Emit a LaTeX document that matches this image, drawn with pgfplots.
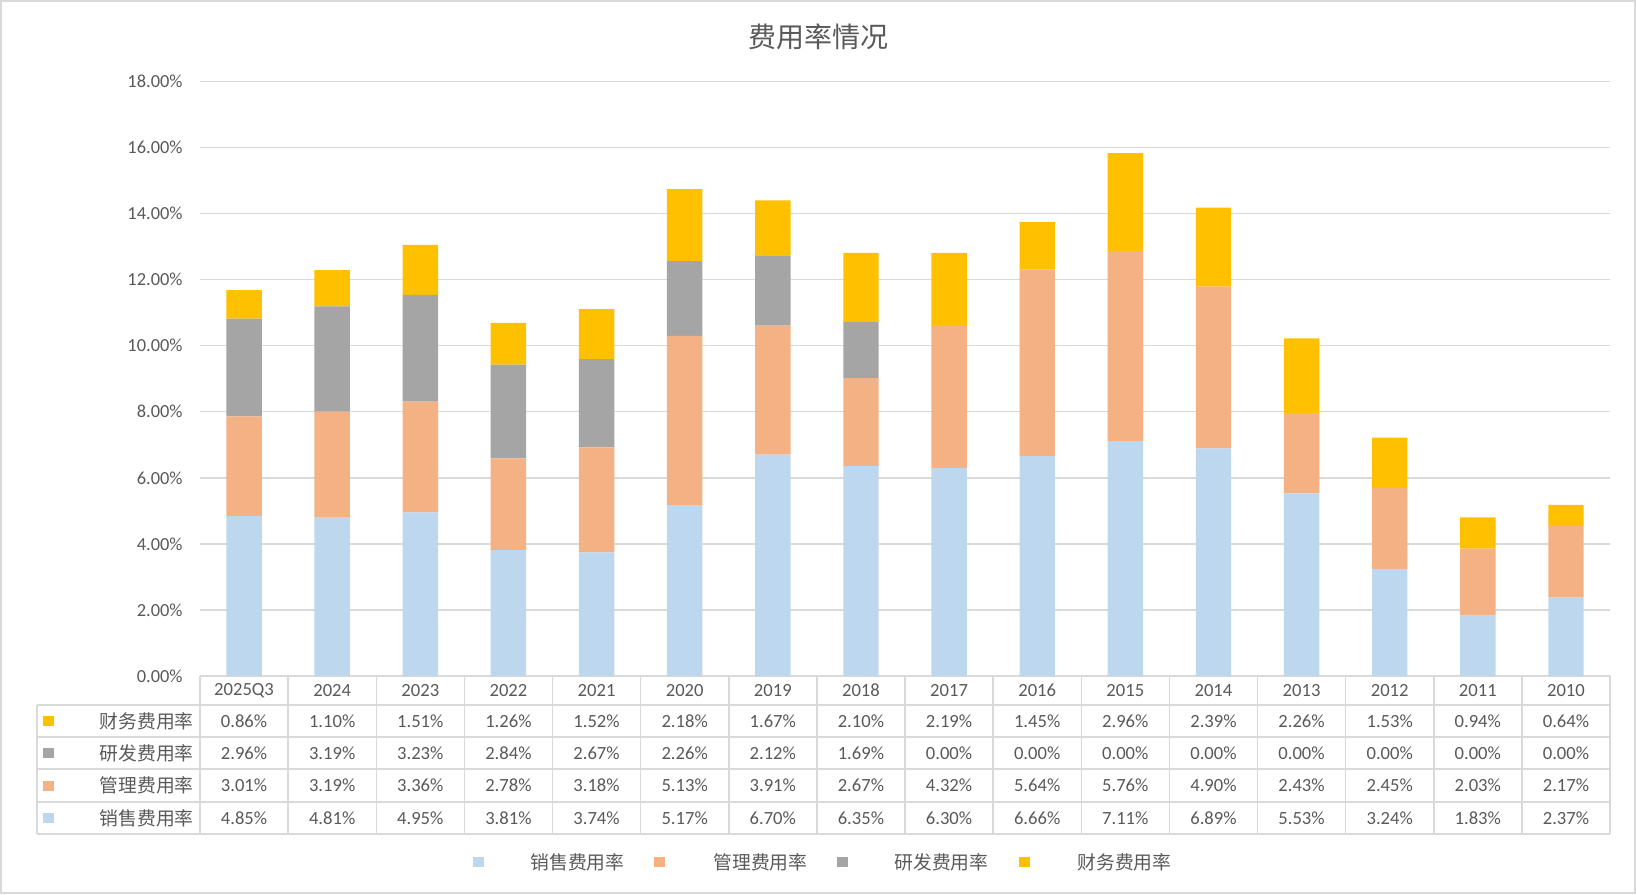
\documentclass[border=0pt]{standalone}
\usepackage{pgfplots}
\usepackage{pgfplotstable}
\pgfplotsset{compat=1.18}
\usepackage{fontspec}
\setmainfont{Carlito}
\newfontfamily\cjk{Noto Sans CJK SC}
\definecolor{colSales}{HTML}{BDD7EE}
\definecolor{colMgmt}{HTML}{F4B183}
\definecolor{colRd}{HTML}{A5A5A5}
\definecolor{colFin}{HTML}{FFC000}
\definecolor{txtgray}{HTML}{595959}
\definecolor{lngray}{HTML}{D9D9D9}
\pgfplotstableread{
cat sales mgmt rd fin
2025Q3 4.85 3.01 2.96 0.86
2024 4.81 3.19 3.19 1.10
2023 4.95 3.36 3.23 1.51
2022 3.81 2.78 2.84 1.26
2021 3.74 3.18 2.67 1.52
2020 5.17 5.13 2.26 2.18
2019 6.70 3.91 2.12 1.67
2018 6.35 2.67 1.69 2.10
2017 6.30 4.32 0.00 2.19
2016 6.66 5.64 0.00 1.45
2015 7.11 5.76 0.00 2.96
2014 6.89 4.90 0.00 2.39
2013 5.53 2.43 0.00 2.26
2012 3.24 2.45 0.00 1.53
2011 1.83 2.03 0.00 0.94
2010 2.37 2.17 0.00 0.64
}\data
\begin{document}
\begin{tikzpicture}
\begin{scope}[x=0.5pt,y=-0.5pt]
\useasboundingbox (0,0) rectangle (1636,894);
\draw[lngray, line width=1pt] (1,1) rectangle (1635,893);
\end{scope}
\begin{axis}[
  at={(100pt,-338pt)}, anchor=south west,
  scale only axis, width=705pt, height=297.3pt,
  ybar stacked, bar width=17.7pt,
  xmin=-0.5, xmax=15.5, ymin=0, ymax=18,
  xtick=\empty,
  ytick={0,2,...,18},
  yticklabel={\pgfmathprintnumber[assume math mode=true,fixed,fixed zerofill,precision=2]{\tick}\%},
  yticklabel style={font=\fontsize{9.2}{11}\selectfont, text=txtgray, inner sep=0pt, anchor=east, xshift=-8.5pt},
  ymajorgrids, major grid style={lngray, line width=0.75pt},
  axis line style={draw=none}, major tick style={draw=none},
  clip=false,
]
\addplot[fill=colSales, draw=none] table[x expr=\coordindex, y=sales]{\data};
\addplot[fill=colMgmt, draw=none] table[x expr=\coordindex, y=mgmt]{\data};
\addplot[fill=colRd, draw=none] table[x expr=\coordindex, y=rd]{\data};
\addplot[fill=colFin, draw=none] table[x expr=\coordindex, y=fin]{\data};
\end{axis}
\begin{scope}[x=0.5pt,y=-0.5pt]
% title
\node[text=txtgray, font=\cjk\fontsize{14}{16}\selectfont] at (818,36.5) {费用率情况};
% table grid
\foreach \k in {0,...,16} \draw[lngray, line width=0.75pt] ({200+88.125*\k},676) -- ({200+88.125*\k},834);
\draw[lngray, line width=0.75pt] (37,705) -- (37,834);
\foreach \yy in {705,737,769,802,834} \draw[lngray, line width=0.75pt] (37,\yy) -- (1610,\yy);
% header
\foreach \i in {0,...,15} {
  \pgfplotstablegetelem{\i}{cat}\of\data
  \node[text=txtgray, font=\fontsize{9.3}{11}\selectfont] at ({200+88.125*(\i+0.5)},690.5) {\pgfplotsretval};
}
% rows
\foreach \col/\c/\name/\yy in {fin/colFin/财务费用率/721, rd/colRd/研发费用率/753, mgmt/colMgmt/管理费用率/785.5, sales/colSales/销售费用率/818} {
  \fill[\c] (43,{\yy-5}) rectangle (54,{\yy+5});
  \node[anchor=east, inner sep=0pt, text=txtgray, font=\cjk\fontsize{9.4}{11}\selectfont] at (194,\yy) {\name};
  \foreach \i in {0,...,15} {
    \pgfplotstablegetelem{\i}{\col}\of\data
    \node[text=txtgray, font=\fontsize{9.3}{11}\selectfont] at ({200+88.125*(\i+0.5)},\yy) {\pgfmathprintnumber[assume math mode=true,fixed,fixed zerofill,precision=2]{\pgfplotsretval}\%};
  }
}
% legend
\foreach \mx/\tpos/\c/\name in {478/530/colSales/销售费用率, 659/713/colMgmt/管理费用率, 842/894/colRd/研发费用率, 1024/1077/colFin/财务费用率} {
  \fill[\c] ({\mx-5.5},857) rectangle ({\mx+5.5},867);
  \node[anchor=west, inner sep=0pt, text=txtgray, font=\cjk\fontsize{9.4}{11}\selectfont] at (\tpos,862) {\name};
}
\end{scope}
\end{tikzpicture}
\end{document}
